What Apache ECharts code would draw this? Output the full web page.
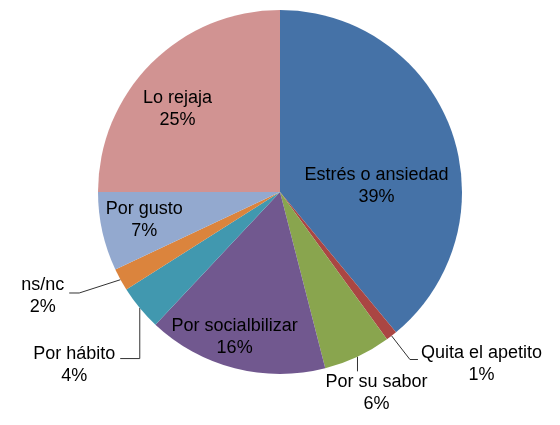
<!DOCTYPE html>
<html>
<head>
<meta charset="utf-8">
<script src="https://cdn.jsdelivr.net/npm/echarts@6/dist/echarts.min.js"></script>
<style>
html, body { margin: 0; padding: 0; background: #fff; }
#chartmain { width: 560px; height: 425px; }
</style>
</head>
<body>
<div id="chartmain"></div>
<script>
// datos del grafico
var categories = ['Estrés o ansiedad', 'Quita el apetito', 'Por su sabor', 'Por socialbilizar', 'Por hábito', 'ns/nc', 'Por gusto', 'Lo rejaja'];
var values = [39, 1, 6, 16, 4, 2, 7, 25];
var colors = ['#4572A7', '#AA4643', '#89A54E', '#71588F', '#4198AF', '#DB843D', '#93A9CF', '#D19392'];
var labelInside = [true, false, false, true, false, false, true, true];

// desplazamiento de etiquetas y largo de las lineas guia
var labelShift = [[8, 26], [0, 5], [-41, 24], [-22, 54], [-10, 47], [-10, -2], [-44, 8], [-36, -17]];
var lineLen = [0, 30, 14, 0, 15, 38, 0, 0];
var lineLen2 = [0, 8, 0, 0, 0, 10, 0, 0];
// forma de la linea guia: 'def' por defecto, 'down' vertical hasta la etiqueta, 'elbow' vertical y luego horizontal, 'slant' diagonal y luego horizontal
var lineShape = ['', 'def', 'down', '', 'elbow', 'slant', '', ''];

var datas = [];
for (var i = 0; i < categories.length; i++) {
    datas.push({
        name: categories[i],
        value: values[i],
        itemStyle: { color: colors[i] },
        label: { position: labelInside[i] ? 'inside' : 'outside' },
        labelLine: { show: !labelInside[i], length: lineLen[i], length2: lineLen2[i] }
    });
}

function layoutLabel(params) {
    var idx = params.dataIndex;
    var s = labelShift[idx];
    var res = { dx: s[0], dy: s[1] };
    var pts = params.labelLinePoints;
    if (pts && pts.length) {
        var r = params.labelRect;
        var left = r.x + s[0], top = r.y + s[1], right = left + r.width;
        var p0 = pts[0];
        if (lineShape[idx] == 'down') {
            res.labelLinePoints = [[p0[0], p0[1]], [p0[0], top], [p0[0], top]];
        } else if (lineShape[idx] == 'elbow') {
            res.labelLinePoints = [[p0[0], p0[1]], [p0[0], top + 16], [right + 5, top + 16]];
        } else if (lineShape[idx] == 'slant') {
            res.labelLinePoints = [[p0[0], p0[1]], [right + 15, top + 19], [right + 5, top + 19]];
        }
    }
    return res;
}

var option = {
    backgroundColor: '#fff',
    animation: false,
    series: [
        {
            type: 'pie',
            radius: 182,
            center: [280, 192],
            startAngle: 90,
            clockwise: true,
            avoidLabelOverlap: false,
            data: datas,
            label: {
                formatter: '{n|{b}}\n{n|{c}%}',
                color: '#000',
                fontFamily: 'Liberation Sans, Arial, sans-serif',
                fontSize: 18,
                lineHeight: 22,
                distanceToLabelLine: 3,
                rich: {
                    n: { align: 'center', fontSize: 18, lineHeight: 22, color: '#000', fontFamily: 'Liberation Sans, Arial, sans-serif' }
                }
            },
            labelLine: {
                lineStyle: { color: '#333', width: 1 }
            },
            labelLayout: layoutLabel,
            emphasis: { disabled: true }
        }
    ]
};

var myChart = echarts.init(document.getElementById('chartmain'));
myChart.setOption(option);
</script>
</body>
</html>
